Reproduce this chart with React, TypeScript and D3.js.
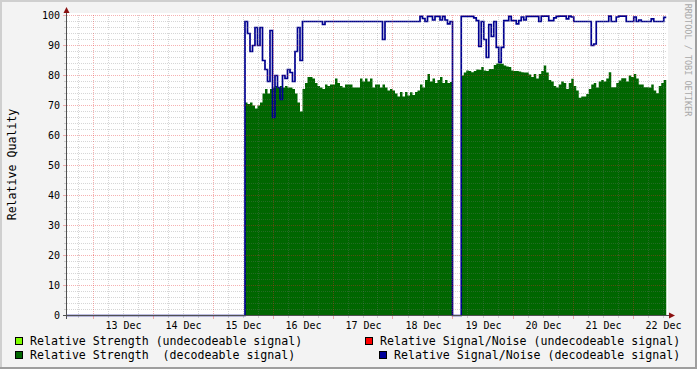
import React from "react";
import * as d3 from "d3";

// ---------- data ----------
const dayLabels = ["13 Dec", "14 Dec", "15 Dec", "16 Dec", "17 Dec", "18 Dec", "19 Dec", "20 Dec", "21 Dec", "22 Dec"];
const yTickValues = [0, 10, 20, 30, 40, 50, 60, 70, 80, 90, 100];

const windowStart = Date.UTC(2010, 11, 12, 13, 48);
const windowEnd = Date.UTC(2010, 11, 22, 13, 48);
const seg1Start = Date.UTC(2010, 11, 15, 13, 0);
const seg2Start = Date.UTC(2010, 11, 19, 3, 30);
const HOUR = 3600e3;

// hourly samples, segment 1 (15 Dec 13:00 -> 19 Dec 00:00)
const strengthSeg1 = [
  71, 70.5, 71, 70, 69, 70, 71, 74, 75.5, 74,
  75.5, 76, 76.5, 76, 76.5, 76, 76.5, 76, 76, 75.5,
  74, 71, 68, 75.5, 77.5, 79.5, 79.5, 79, 77.5, 76.5,
  76, 75.5, 77, 76.5, 77, 77, 79, 77.5, 76.5, 76,
  77, 77, 77, 76, 76, 76, 79, 78, 79, 78,
  79, 76, 77, 77, 76, 77, 76, 75, 75.5, 75,
  74, 73, 74.5, 73, 74.5, 73.3, 74.4, 73.5, 74.5, 75,
  77, 76, 78.5, 80.5, 78, 79, 77.5, 78.5, 79.5, 77.5,
  78.5, 77.5, 77.8,
];
const snrSeg1 = [
  98, 94, 88, 90, 96, 90, 96, 85, 82, 78,
  95, 66, 80, 76, 72, 80, 79, 82, 81, 78,
  88, 96, 85, 98, 98, 98, 98, 98, 98, 98,
  98, 97, 98, 98, 98, 98, 98, 98, 98, 98,
  98, 98, 98, 98, 98, 98, 98, 98, 98, 98,
  98, 98, 98, 98, 98, 92, 98, 98, 98, 98,
  98, 98, 98, 98, 98, 98, 98, 98, 98, 98,
  99.7, 99, 98, 99.7, 99.7, 98.5, 99.7, 99.7, 98.5, 99.7,
  98.5, 97.2, 98,
];
// hourly samples, segment 2 (19 Dec 03:30 -> 22 Dec 13:30)
const strengthSeg2 = [
  80, 81, 81.7, 81.5, 81.1, 81.5, 82, 81.9, 82.8, 81.7,
  81.5, 82.2, 82.2, 83.5, 84, 84, 83.9, 83.3, 83, 82.8,
  81.7, 81.5, 81.5, 81.3, 81.1, 81, 81, 80.3, 79.5, 80.5,
  79, 80.5, 81.5, 83.3, 81, 78.5, 78, 76.5, 76, 77,
  78, 77.5, 75.5, 77.5, 78.9, 76.5, 75, 72.6, 73, 73,
  73.8, 75.5, 77, 77.5, 76, 78, 78.5, 78, 79, 81.1,
  76.1, 76.1, 77.5, 78.3, 79.1, 79.1, 78, 80, 79.5, 80.5,
  79, 77, 77, 76.1, 76.1, 76, 77, 75, 74.1, 76.5,
  77.5, 78.5,
];
const snrSeg2 = [
  99.7, 99.7, 99.7, 99.7, 99.7, 99.2, 98.3, 89.7, 98, 92,
  86, 97, 93, 98, 89.4, 84.4, 89.4, 98.3, 98.3, 99.7,
  98.3, 98.3, 97.2, 98.3, 99.5, 98.5, 99.7, 99.7, 99.7, 99.7,
  99.7, 98, 99.8, 99.8, 99.8, 98.3, 98.3, 99.2, 99.7, 99.8,
  99.8, 99.8, 98.9, 99.8, 99.5, 98, 98, 98, 98, 98,
  98, 98, 90, 90.5, 98, 98, 98, 98, 98, 99.8,
  98, 98, 99.5, 99.8, 99.8, 99.8, 98, 98, 98, 99.5,
  98, 98.5, 98, 98, 98, 98, 98.9, 98, 98, 98,
  98, 99.4,
];

const legendLabels = [
  "Relative Strength (undecodeable signal)",
  "Relative Strength  (decodeable signal)",
  "Relative Signal/Noise (undecodeable signal)",
  "Relative Signal/Noise (decodeable signal)",
];
const legendColors = ["#7fff00", "#006600", "#ff0000", "#000099"];
const yTitle = "Relative Quality";
const watermark = "RRDTOOL / TOBI OETIKER";

type Pt = { t: number; v: number };

function toPoints(start: number, vals: number[]): Pt[] {
  const pts = vals.map((v, i) => ({ t: start + i * HOUR, v }));
  pts.push({ t: start + vals.length * HOUR, v: vals[vals.length - 1] });
  return pts;
}

export default function App() {
  const W = 697, H = 369;
  const L = 67, R = 667, T = 15.5, B = 315.5;
  const x = d3.scaleUtc().domain([windowStart, windowEnd]).range([L, R]);
  const y = d3.scaleLinear().domain([0, 100]).range([B, T]);

  const area = d3.area<Pt>().x((d) => x(d.t)).y0(y(0)).y1((d) => y(d.v)).curve(d3.curveStepAfter);
  const line = d3.line<Pt>().x((d) => x(d.t)).y((d) => y(d.v)).curve(d3.curveStepAfter);

  const g1 = toPoints(seg1Start, strengthSeg1);
  const g2 = toPoints(seg2Start, strengthSeg2);

  const seg1End = seg1Start + snrSeg1.length * HOUR;
  const seg2End = seg2Start + snrSeg2.length * HOUR;
  const bluePts: Pt[] = [
    { t: windowStart, v: 0 },
    ...snrSeg1.map((v, i) => ({ t: seg1Start + i * HOUR, v })),
    { t: seg1End, v: 0 },
    ...snrSeg2.map((v, i) => ({ t: seg2Start + i * HOUR, v })),
    { t: seg2End, v: snrSeg2[snrSeg2.length - 1] },
  ];

  const majorX = d3.utcDay.range(windowStart, windowEnd);
  const minorX = d3.utcHour.every(6)!.range(windowStart, windowEnd).filter((d) => d.getUTCHours() !== 0);
  const minorY = d3.range(2, 100, 2).filter((v) => v % 10 !== 0);
  const majorY = yTickValues.filter((v) => v > 0);
  const labelTimes = dayLabels.map((_, k) => Date.UTC(2010, 11, 13 + k, 12));

  const font = "'DejaVu Sans Mono', monospace";
  const minorCol = "rgba(120,120,120,0.3)";
  const majorCol = "rgba(230,40,40,0.36)";
  const xs = (d: Date) => Math.round(x(d)) + 0.5;

  return (
    <svg width={W} height={H} style={{ position: "absolute", left: 0, top: 0, display: "block" }} fontFamily={font}>
      <rect x={0} y={0} width={W} height={H} fill="#f3f3f3" />
      <rect x={0} y={0} width={W} height={2} fill="#cfcfcf" />
      <rect x={0} y={0} width={2} height={H} fill="#cfcfcf" />
      <rect x={0} y={H - 2} width={W} height={2} fill="#9e9e9e" />
      <rect x={W - 2} y={0} width={2} height={H} fill="#9e9e9e" />

      <rect x={L} y={13} width={R - L + 1} height={303} fill="#ffffff" />

      <path d={area(g1) || ""} fill="#006600" />
      <path d={area(g2) || ""} fill="#006600" />
      <path d={line(bluePts) || ""} fill="none" stroke="#000090" strokeWidth={1.7} />

      {/* grid */}
      <g strokeWidth={1} shapeRendering="crispEdges">
        {minorY.map((v) => (
          <g key={"my" + v}>
            <line x1={L} x2={R} y1={y(v)} y2={y(v)} stroke={minorCol} strokeDasharray="1 1" />
            <line x1={64} x2={L} y1={y(v)} y2={y(v)} stroke={minorCol} />
          </g>
        ))}
        {minorX.map((d, i) => (
          <g key={"mx" + i}>
            <line x1={xs(d)} x2={xs(d)} y1={T - 1} y2={B} stroke={minorCol} strokeDasharray="1 1" />
            <line x1={xs(d)} x2={xs(d)} y1={B} y2={B + 2.5} stroke={minorCol} />
          </g>
        ))}
        {majorY.map((v) => (
          <g key={"My" + v}>
            <line x1={L} x2={R} y1={y(v)} y2={y(v)} stroke={majorCol} strokeDasharray="1 1" />
            <line x1={63} x2={L} y1={y(v)} y2={y(v)} stroke={majorCol} />
          </g>
        ))}
        {majorX.map((d, i) => (
          <g key={"Mx" + i}>
            <line x1={xs(d)} x2={xs(d)} y1={T - 1} y2={B} stroke={majorCol} strokeDasharray="1 1" />
            <line x1={xs(d)} x2={xs(d)} y1={B} y2={B + 3.5} stroke={majorCol} />
          </g>
        ))}
      </g>

      {/* axes */}
      <g shapeRendering="crispEdges" stroke="#505050" strokeWidth={1}>
        <line x1={66.5} x2={66.5} y1={12} y2={B + 3} />
        <line x1={63} x2={669} y1={B} y2={B} />
      </g>
      <path d="M66.5,7 L63.5,13 L69.5,13 Z" fill="#8b1010" />
      <path d="M675,315.5 L669,312.5 L669,318.5 Z" fill="#8b1010" />

      {/* tick labels */}
      <g fontSize={10} fill="#000">
        {yTickValues.map((v) => (
          <text key={"yl" + v} x={60} y={y(v) + 3.7} textAnchor="end">{v}</text>
        ))}
        {dayLabels.map((lab, k) => (
          <text key={"xl" + k} x={x(labelTimes[k]) + 1} y={329} textAnchor="middle">{lab}</text>
        ))}
      </g>

      <text transform="translate(16,164.5) rotate(-90)" textAnchor="middle" fontSize={11.6} fill="#000">{yTitle}</text>
      <text transform="translate(684.5,60) rotate(90)" textAnchor="middle" fontSize={8.5} fill="#a8a8a8">{watermark}</text>

      {/* legend */}
      <g fontSize={11.6} fill="#000" style={{ whiteSpace: "pre" }}>
        {[
          { sx: 15.5, sy: 337.5, tx: 30, ty: 345 },
          { sx: 15.5, sy: 351.5, tx: 30, ty: 359 },
          { sx: 365.5, sy: 337.5, tx: 380, ty: 345 },
          { sx: 379.5, sy: 351.5, tx: 394, ty: 359 },
        ].map((p, i) => (
          <g key={"lg" + i}>
            <rect x={p.sx} y={p.sy} width={7} height={7} fill={legendColors[i]} stroke="#000" strokeWidth={1} />
            <text x={p.tx} y={p.ty} style={{ whiteSpace: "pre" }}>{legendLabels[i]}</text>
          </g>
        ))}
      </g>
    </svg>
  );
}
